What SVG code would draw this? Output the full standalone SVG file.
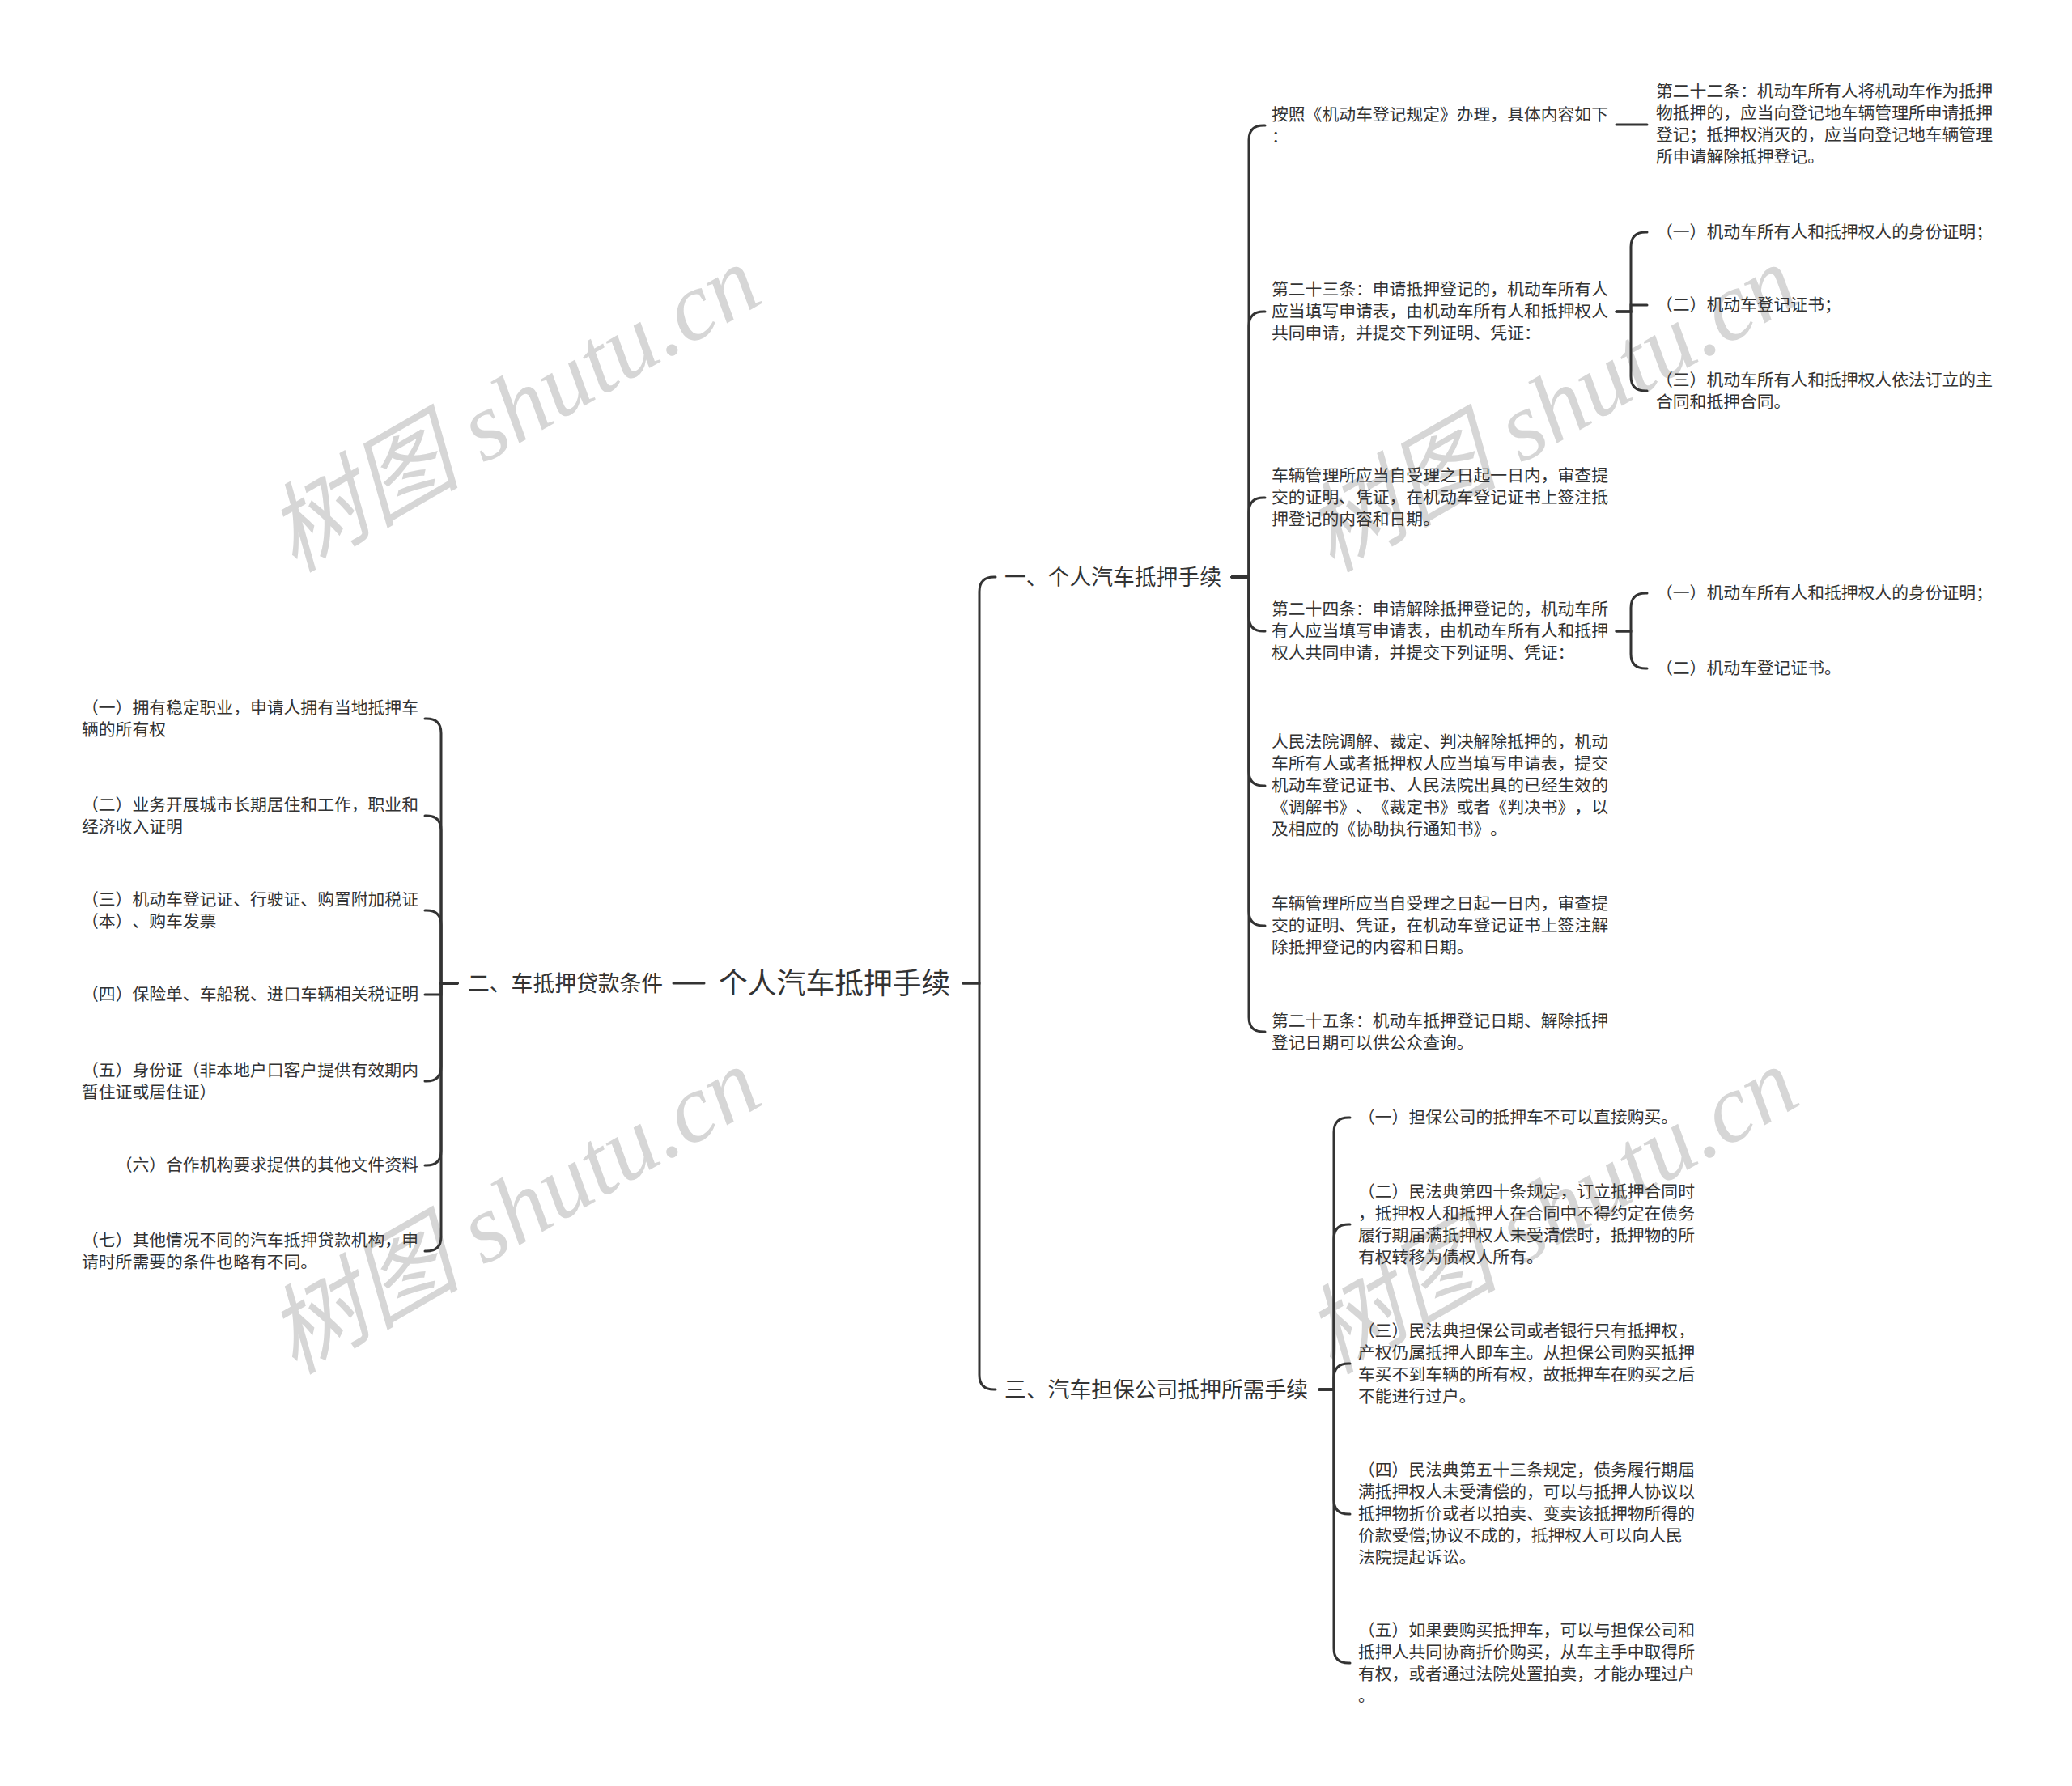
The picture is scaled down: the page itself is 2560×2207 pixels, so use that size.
<svg xmlns="http://www.w3.org/2000/svg" width="2560" height="2207" viewBox="0 0 2560 2207">
<style>
text{font-family:"Noto Sans CJK SC","Liberation Sans",sans-serif;fill:#333;text-spacing-trim:space-all;font-feature-settings:"chws" 0,"halt" 0,"palt" 0;font-kerning:none}
.root{font-size:35.8px}
.l1{font-size:26.8px}
.lf{font-size:20.8px}
.wm{font-family:"Liberation Serif","Noto Sans CJK SC",serif;font-style:italic;font-size:120px;fill:#d6d6d6}
.c path{fill:none;stroke:#333;stroke-width:3;stroke-linecap:round}
</style>
<rect width="2560" height="2207" fill="#fff"/>
<g id="watermarks">
<text class="wm" x="655" y="540" text-anchor="middle" transform="rotate(-30 655 540)">树图 shutu.cn</text>
<text class="wm" x="655" y="1531" text-anchor="middle" transform="rotate(-30 655 1531)">树图 shutu.cn</text>
<text class="wm" x="1937" y="540" text-anchor="middle" transform="rotate(-30 1937 540)">树图 shutu.cn</text>
<text class="wm" x="1937" y="1531" text-anchor="middle" transform="rotate(-30 1937 1531)">树图 shutu.cn</text>
</g>
<g id="connectors" class="c">
<path d="M1190,1215 H1210 V731 Q1210,713 1228,713 H1230"/>
<path d="M1190,1215 H1210 V1699 Q1210,1717 1228,1717 H1230"/>
<path d="M870,1215 H832"/>
<path d="M1522,713 H1543 V173 Q1543,155 1561,155 H1563"/>
<path d="M1522,713 H1543 V403 Q1543,385 1561,385 H1563"/>
<path d="M1522,713 H1543 V633 Q1543,615 1561,615 H1563"/>
<path d="M1522,713 H1543 V762 Q1543,780 1561,780 H1563"/>
<path d="M1522,713 H1543 V953 Q1543,971 1561,971 H1563"/>
<path d="M1522,713 H1543 V1126 Q1543,1144 1561,1144 H1563"/>
<path d="M1522,713 H1543 V1257 Q1543,1275 1561,1275 H1563"/>
<path d="M1997,154 H2035"/>
<path d="M1997,385 H2015 V305 Q2015,287 2033,287 H2035"/>
<path d="M1997,385 H2015 V377 H2035"/>
<path d="M1997,385 H2015 V465 Q2015,483 2033,483 H2035"/>
<path d="M1997,780 H2015 V751 Q2015,733 2033,733 H2035"/>
<path d="M1997,780 H2015 V808 Q2015,826 2033,826 H2035"/>
<path d="M1630,1717 H1648 V1399 Q1648,1381 1666,1381 H1668"/>
<path d="M1630,1717 H1648 V1531 Q1648,1513 1666,1513 H1668"/>
<path d="M1630,1717 H1648 V1703 Q1648,1685 1666,1685 H1668"/>
<path d="M1630,1717 H1648 V1853 Q1648,1871 1666,1871 H1668"/>
<path d="M1630,1717 H1648 V2037 Q1648,2055 1666,2055 H1668"/>
<path d="M565,1215 H545 V906 Q545,888 527,888 H525"/>
<path d="M565,1215 H545 V1026 Q545,1008 527,1008 H525"/>
<path d="M565,1215 H545 V1143 Q545,1125 527,1125 H525"/>
<path d="M565,1215 H545 V1229 H525"/>
<path d="M565,1215 H545 V1318 Q545,1336 527,1336 H525"/>
<path d="M565,1215 H545 V1422 Q545,1440 527,1440 H525"/>
<path d="M565,1215 H545 V1528 Q545,1546 527,1546 H525"/>
</g>
<g id="root"><text class="root" x="888" y="1228">个人汽车抵押手续</text></g>
<g id="b1"><text class="l1" x="1241" y="723">一、个人汽车抵押手续</text></g>
<g id="b2"><text class="l1" x="578" y="1225">二、车抵押贷款条件</text></g>
<g id="b3"><text class="l1" x="1241" y="1727">三、汽车担保公司抵押所需手续</text></g>
<g id="n1"><text class="lf" x="1571" y="149">按照《机动车登记规定》办理，具体内容如下<tspan x="1571" dy="27">：</tspan></text></g>
<g id="n1a"><text class="lf" x="2046" y="120">第二十二条：机动车所有人将机动车作为抵押<tspan x="2046" dy="27">物抵押的，应当向登记地车辆管理所申请抵押</tspan><tspan x="2046" dy="27">登记；抵押权消灭的，应当向登记地车辆管理</tspan><tspan x="2046" dy="27">所申请解除抵押登记。</tspan></text></g>
<g id="n2"><text class="lf" x="1571" y="365">第二十三条：申请抵押登记的，机动车所有人<tspan x="1571" dy="27">应当填写申请表，由机动车所有人和抵押权人</tspan><tspan x="1571" dy="27">共同申请，并提交下列证明、凭证：</tspan></text></g>
<g id="n2a"><text class="lf" x="2046" y="294">（一）机动车所有人和抵押权人的身份证明；</text></g>
<g id="n2b"><text class="lf" x="2046" y="384">（二）机动车登记证书；</text></g>
<g id="n2c"><text class="lf" x="2046" y="477">（三）机动车所有人和抵押权人依法订立的主<tspan x="2046" dy="27">合同和抵押合同。</tspan></text></g>
<g id="n3"><text class="lf" x="1571" y="595">车辆管理所应当自受理之日起一日内，审查提<tspan x="1571" dy="27">交的证明、凭证，在机动车登记证书上签注抵</tspan><tspan x="1571" dy="27">押登记的内容和日期。</tspan></text></g>
<g id="n4"><text class="lf" x="1571" y="760">第二十四条：申请解除抵押登记的，机动车所<tspan x="1571" dy="27">有人应当填写申请表，由机动车所有人和抵押</tspan><tspan x="1571" dy="27">权人共同申请，并提交下列证明、凭证：</tspan></text></g>
<g id="n4a"><text class="lf" x="2046" y="740">（一）机动车所有人和抵押权人的身份证明；</text></g>
<g id="n4b"><text class="lf" x="2046" y="833">（二）机动车登记证书。</text></g>
<g id="n5"><text class="lf" x="1571" y="924">人民法院调解、裁定、判决解除抵押的，机动<tspan x="1571" dy="27">车所有人或者抵押权人应当填写申请表，提交</tspan><tspan x="1571" dy="27">机动车登记证书、人民法院出具的已经生效的</tspan><tspan x="1571" dy="27">《调解书》、《裁定书》或者《判决书》，以</tspan><tspan x="1571" dy="27">及相应的《协助执行通知书》。</tspan></text></g>
<g id="n6"><text class="lf" x="1571" y="1124">车辆管理所应当自受理之日起一日内，审查提<tspan x="1571" dy="27">交的证明、凭证，在机动车登记证书上签注解</tspan><tspan x="1571" dy="27">除抵押登记的内容和日期。</tspan></text></g>
<g id="n7"><text class="lf" x="1571" y="1269">第二十五条：机动车抵押登记日期、解除抵押<tspan x="1571" dy="27">登记日期可以供公众查询。</tspan></text></g>
<g id="c1"><text class="lf" x="1678" y="1388">（一）担保公司的抵押车不可以直接购买。</text></g>
<g id="c2"><text class="lf" x="1678" y="1480">（二）民法典第四十条规定，订立抵押合同时<tspan x="1678" dy="27">，抵押权人和抵押人在合同中不得约定在债务</tspan><tspan x="1678" dy="27">履行期届满抵押权人未受清偿时，抵押物的所</tspan><tspan x="1678" dy="27">有权转移为债权人所有。</tspan></text></g>
<g id="c3"><text class="lf" x="1678" y="1652">（三）民法典担保公司或者银行只有抵押权，<tspan x="1678" dy="27">产权仍属抵押人即车主。从担保公司购买抵押</tspan><tspan x="1678" dy="27">车买不到车辆的所有权，故抵押车在购买之后</tspan><tspan x="1678" dy="27">不能进行过户。</tspan></text></g>
<g id="c4"><text class="lf" x="1678" y="1824">（四）民法典第五十三条规定，债务履行期届<tspan x="1678" dy="27">满抵押权人未受清偿的，可以与抵押人协议以</tspan><tspan x="1678" dy="27">抵押物折价或者以拍卖、变卖该抵押物所得的</tspan><tspan x="1678" dy="27">价款受偿;协议不成的，抵押权人可以向人民</tspan><tspan x="1678" dy="27">法院提起诉讼。</tspan></text></g>
<g id="c5"><text class="lf" x="1678" y="2022">（五）如果要购买抵押车，可以与担保公司和<tspan x="1678" dy="27">抵押人共同协商折价购买，从车主手中取得所</tspan><tspan x="1678" dy="27">有权，或者通过法院处置拍卖，才能办理过户</tspan><tspan x="1678" dy="27">。</tspan></text></g>
<g id="l1"><text class="lf" x="101" y="882">（一）拥有稳定职业，申请人拥有当地抵押车<tspan x="101" dy="27">辆的所有权</tspan></text></g>
<g id="l2"><text class="lf" x="101" y="1002">（二）业务开展城市长期居住和工作，职业和<tspan x="101" dy="27">经济收入证明</tspan></text></g>
<g id="l3"><text class="lf" x="101" y="1119">（三）机动车登记证、行驶证、购置附加税证<tspan x="101" dy="27">（本）、购车发票</tspan></text></g>
<g id="l4"><text class="lf" x="517" y="1236" text-anchor="end">（四）保险单、车船税、进口车辆相关税证明</text></g>
<g id="l5"><text class="lf" x="101" y="1330">（五）身份证（非本地户口客户提供有效期内<tspan x="101" dy="27">暂住证或居住证）</tspan></text></g>
<g id="l6"><text class="lf" x="517" y="1447" text-anchor="end">（六）合作机构要求提供的其他文件资料</text></g>
<g id="l7"><text class="lf" x="101" y="1540">（七）其他情况不同的汽车抵押贷款机构，申<tspan x="101" dy="27">请时所需要的条件也略有不同。</tspan></text></g>
</svg>
